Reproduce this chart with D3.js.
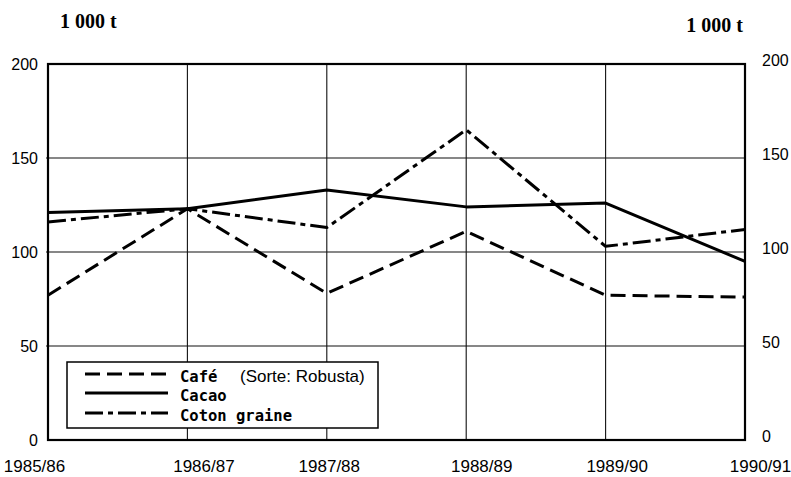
<!DOCTYPE html>
<html><head><meta charset="utf-8">
<script src="https://cdn.jsdelivr.net/npm/d3@7"></script>
<style>body{margin:0;background:#fff}svg{display:block}</style>
</head><body>
<script>
const years = ["1985/86","1986/87","1987/88","1988/89","1989/90","1990/91"];
const cafe   = [77, 123, 78, 111, 77, 76];
const cacao  = [121, 123, 133, 124, 126, 95];
const coton  = [116, 123, 113, 165, 103, 112];
const yTicks = [0, 50, 100, 150, 200];
const seriesNames = ["Café", "Cacao", "Coton graine"];
const unitLabel = "1 000 t";

const W = 791, H = 477;
const svg = d3.select("body").append("svg").attr("width", W).attr("height", H);
const x = d3.scalePoint().domain(years).range([48, 745]);
const y = d3.scaleLinear().domain([0, 200]).range([440, 64]);
const sans = "Liberation Sans, Arial, sans-serif";

// gridlines
svg.append("g").selectAll("line").data(yTicks.filter(t => t > 0 && t < 200)).join("line")
  .attr("x1", 46).attr("x2", 745).attr("y1", d => y(d)).attr("y2", d => y(d))
  .attr("stroke", "#111").attr("stroke-width", 1.1);
svg.append("g").selectAll("line").data(years.slice(1, -1)).join("line")
  .attr("x1", d => x(d)).attr("x2", d => x(d)).attr("y1", 64).attr("y2", 440)
  .attr("stroke", "#111").attr("stroke-width", 1.1);

// frame
svg.append("rect").attr("x", 48).attr("y", 64).attr("width", 697).attr("height", 376)
  .attr("fill", "none").attr("stroke", "#000").attr("stroke-width", 2.2);

// left axis
const gl = svg.append("g").attr("transform", "translate(48,0)")
  .call(d3.axisLeft(y).tickValues(yTicks).tickSize(0).tickPadding(10));
gl.select(".domain").remove();
gl.selectAll("text").attr("font-family", sans).attr("font-size", 16).attr("fill", "#000");

// right axis
const gr = svg.append("g").attr("transform", "translate(745,0)")
  .call(d3.axisRight(y).tickValues(yTicks).tickSize(0).tickPadding(17));
gr.select(".domain").remove();
gr.selectAll("text").attr("font-family", sans).attr("font-size", 16).attr("fill", "#000").attr("dy", "0.1em");

// bottom axis labels
const labelShift = [-14, 16, 2, 15, 11, 15];
const gb = svg.append("g").attr("transform", "translate(0,440)")
  .call(d3.axisBottom(x).tickSize(0).tickPadding(22));
gb.select(".domain").remove();
gb.selectAll("text").attr("font-family", sans).attr("font-size", 17).attr("fill", "#000")
  .attr("dx", (d, i) => labelShift[i]).attr("dy", "0.6em");

// unit labels
svg.append("text").attr("x", 60).attr("y", 28).text(unitLabel)
  .attr("font-family", "Liberation Serif, Times New Roman, serif").attr("font-size", 20).attr("font-weight", "bold");
svg.append("text").attr("x", 743).attr("y", 32).attr("text-anchor", "end").text(unitLabel)
  .attr("font-family", "Liberation Serif, Times New Roman, serif").attr("font-size", 20).attr("font-weight", "bold");

// lines
const line = d3.line().x((d, i) => x(years[i])).y(d => y(d));
const styles = [
  {data: cafe,  dash: "15,7"},
  {data: cacao, dash: null},
  {data: coton, dash: "18,5,5,5"}
];
styles.forEach(s => {
  svg.append("path").datum(s.data).attr("d", line).attr("fill", "none")
    .attr("stroke", "#000").attr("stroke-width", 3).attr("stroke-linejoin", "round")
    .attr("stroke-dasharray", s.dash);
});

// legend
const lg = svg.append("g");
lg.append("rect").attr("x", 67).attr("y", 362).attr("width", 311).attr("height", 66)
  .attr("fill", "#fff").attr("stroke", "#000").attr("stroke-width", 1.5);
const rows = [374, 393, 413];
styles.forEach((s, i) => {
  lg.append("line").attr("x1", 85).attr("x2", 168).attr("y1", rows[i]).attr("y2", rows[i])
    .attr("stroke", "#000").attr("stroke-width", 3).attr("stroke-dasharray", s.dash);
  lg.append("text").attr("x", 180).attr("y", rows[i] + 8).text(seriesNames[i])
    .attr("font-family", "DejaVu Sans Mono, monospace").attr("font-size", 15.5).attr("font-weight", "bold");
});
lg.append("text").attr("x", 240).attr("y", rows[0] + 8).text("(Sorte: Robusta)")
  .attr("font-family", sans).attr("font-size", 17);
</script>
</body></html>
